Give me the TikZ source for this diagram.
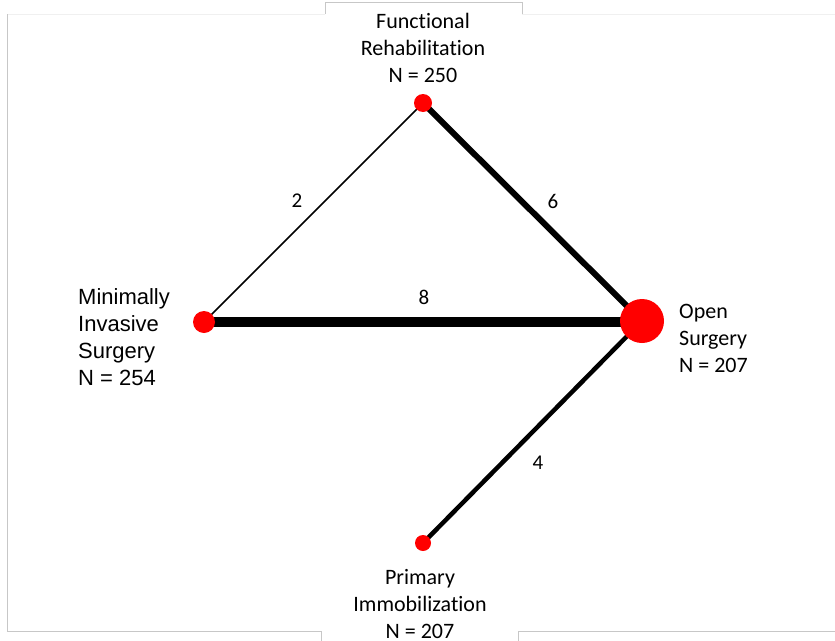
\documentclass[tikz,border=0pt]{standalone}
\usepackage{fontspec}
\setmainfont{Carlito}[Ligatures=NoCommon]
\newfontfamily\arialfont{Liberation Sans}
\pgfdeclarelayer{bg}
\pgfsetlayers{bg,main}
\tikzset{
  px/.style={x=1pt,y=-1pt},
  trt/.style={circle,fill=red,inner sep=0pt,minimum size=#1},
  lbl/.style={inner sep=0pt,font=\fontsize{22}{27}\selectfont},
  elbl/.style={inner sep=0pt,font=\fontsize{21}{25}\selectfont},
  edge/.style={line width=#1,black},
  frameline/.style={draw=black!22,line width=1pt},
  framelight/.style={draw=black!6,line width=1pt}
}
\begin{document}
\begin{tikzpicture}[px]
\useasboundingbox (0,0) rectangle (835,640);
% frame
\draw[framelight] (7,14) -- (325,14);
\draw[framelight] (522,14) -- (835,14);
\draw[frameline] (325,14) -- (325,2) -- (522,2) -- (522,14);
\draw[frameline] (7,14) -- (7,631) -- (321,631) -- (321,641);
\draw[frameline] (518,641) -- (518,631) -- (835,631);
% treatment nodes
\node[trt=18pt] (fr) at (423,103) {};
\node[trt=22pt] (mis) at (204,322) {};
\node[trt=44pt] (os) at (642,321) {};
\node[trt=16pt] (pi) at (423,543) {};
% connectors
\begin{pgfonlayer}{bg}
\draw[edge=1.5pt] (fr.center) -- (mis.center);
\draw[edge=6pt] (fr.center) -- (os.center);
\draw[edge=10pt] (mis.center) -- (mis.center -| os.center);
\draw[edge=4.5pt] (os.center) -- (pi.center);
\end{pgfonlayer}
% edge labels
\node[elbl] (l2) at (297,201) {2};
\node[elbl] (l6) at (553,201) {6};
\node[elbl] (l8) at (424,297) {8};
\node[elbl] (l4) at (538,463) {4};
% treatment labels
\node[lbl,align=center,anchor=north] (frl) at (423,13) {Functional\\Rehabilitation\\N = 250};
\node[lbl,align=left,anchor=north west,font=\arialfont\fontsize{22}{27}\selectfont] (misl) at (78,288) {Minimally\\Invasive\\Surgery\\N = 254};
\node[lbl,align=left,anchor=north west] (osl) at (679,304) {Open\\Surgery\\N = 207};
\node[lbl,align=center,anchor=north] (pil) at (420,569) {Primary\\Immobilization\\N = 207};
\end{tikzpicture}
\end{document}
